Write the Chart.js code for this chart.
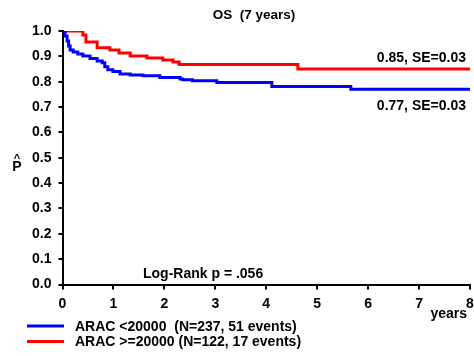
<!DOCTYPE html>
<html>
<head>
<meta charset="utf-8">
<script src="https://cdn.jsdelivr.net/npm/chart.js@4/dist/chart.umd.min.js"></script>
<style>
  html, body { margin: 0; padding: 0; background: #fff; }
  #wrap { width: 474px; height: 356px; }
</style>
</head>
<body>
<div id="wrap"><canvas id="km"></canvas></div>
<script>
// Kaplan-Meier overall survival, two ARAC dose groups
const lowTimes = [0, 0.05, 0.09, 0.12, 0.15, 0.21, 0.30, 0.40, 0.54, 0.68, 0.78, 0.83, 0.89, 0.99, 1.13, 1.33, 1.58, 1.91, 2.31, 2.36, 2.55, 3.03, 4.11, 5.66, 8];
const lowSurv  = [1.0, 0.980, 0.961, 0.941, 0.925, 0.917, 0.909, 0.901, 0.892, 0.882, 0.875, 0.859, 0.847, 0.840, 0.830, 0.826, 0.823, 0.817, 0.811, 0.808, 0.804, 0.797, 0.781, 0.77, 0.77];

const highTimes = [0, 0.40, 0.46, 0.68, 0.93, 1.11, 1.33, 1.66, 1.97, 2.17, 2.29, 4.62, 8];
const highSurv  = [1.0, 0.984, 0.957, 0.934, 0.925, 0.913, 0.901, 0.893, 0.886, 0.878, 0.868, 0.85, 0.85];

const groupNames = ['ARAC <20000  (N=237, 51 events)', 'ARAC >=20000 (N=122, 17 events)'];
const groupColors = ['#0000ff', '#ff0000'];
const endLabels = ['0.77, SE=0.03', '0.85, SE=0.03'];
const xTicks = [0, 1, 2, 3, 4, 5, 6, 7, 8];

const FONT = 'Liberation Sans, Arial, Helvetica, sans-serif';

function toPoints(ts, ss) {
  return ts.map((t, i) => ({ x: t, y: ss[i] }));
}

// extra text: title, end labels, p-value, axis caption, legend
const annotate = {
  id: 'annotate',
  afterDraw(chart) {
    const ctx = chart.ctx;
    ctx.save();
    ctx.fillStyle = '#000';
    ctx.textBaseline = 'middle';

    ctx.font = 'bold 13.5px ' + FONT;
    ctx.textAlign = 'center';
    ctx.fillText('OS  (7 years)', 254, 15);

    ctx.font = 'bold 14px ' + FONT;
    ctx.textAlign = 'right';
    ctx.fillText(endLabels[1], 466, 58);
    ctx.fillText(endLabels[0], 466, 106);

    ctx.textAlign = 'left';
    ctx.fillText('Log-Rank p = .056', 143, 274);

    ctx.textAlign = 'right';
    ctx.fillText('years', 467, 314);

    // y caption: P with hat
    ctx.textAlign = 'center';
    ctx.fillText('P', 17, 167);
    ctx.font = 'bold 11px ' + FONT;
    ctx.fillText('^', 17, 159);

    // legend
    ctx.font = 'bold 14px ' + FONT;
    ctx.textAlign = 'left';
    const rows = [326, 341.5];
    groupNames.forEach((name, i) => {
      ctx.strokeStyle = groupColors[i];
      ctx.lineWidth = 3;
      ctx.beginPath();
      ctx.moveTo(27, rows[i]);
      ctx.lineTo(64, rows[i]);
      ctx.stroke();
      ctx.fillText(name, 75, rows[i] + 1);
    });
    ctx.restore();
  }
};

new Chart(document.getElementById('km'), {
  type: 'line',
  data: {
    datasets: [
      {
        label: groupNames[0],
        data: toPoints(lowTimes, lowSurv),
        borderColor: groupColors[0],
        borderWidth: 3,
        stepped: true,
        pointRadius: 0,
        fill: false
      },
      {
        label: groupNames[1],
        data: toPoints(highTimes, highSurv),
        borderColor: groupColors[1],
        borderWidth: 3,
        stepped: true,
        pointRadius: 0,
        fill: false
      }
    ]
  },
  options: {
    responsive: true,
    maintainAspectRatio: false,
    animation: false,
    layout: { padding: { top: 31, right: 0, left: 0, bottom: 0 } },
    plugins: {
      legend: { display: false },
      tooltip: { enabled: false }
    },
    scales: {
      x: {
        type: 'linear',
        min: 0,
        max: 8,
        afterFit(s) { s.height = 71.5; s.paddingRight = 4; },
        afterBuildTicks(s) { s.ticks = xTicks.map(v => ({ value: v })); },
        border: { color: '#000', width: 2 },
        grid: { drawOnChartArea: false, drawTicks: true, tickLength: 5, color: '#000', lineWidth: 2 },
        ticks: {
          color: '#000',
          font: { family: FONT, size: 14, weight: 'bold' },
          padding: 6,
          maxRotation: 0
        }
      },
      y: {
        min: 0,
        max: 1,
        afterFit(s) { s.width = 62.5; },
        border: { color: '#000', width: 2 },
        grid: { drawOnChartArea: false, drawTicks: true, tickLength: 4, color: '#000', lineWidth: 2 },
        ticks: {
          stepSize: 0.1,
          color: '#000',
          font: { family: FONT, size: 14, weight: 'bold' },
          padding: 7,
          callback: v => v.toFixed(1)
        }
      }
    }
  },
  plugins: [annotate]
});
</script>
</body>
</html>
